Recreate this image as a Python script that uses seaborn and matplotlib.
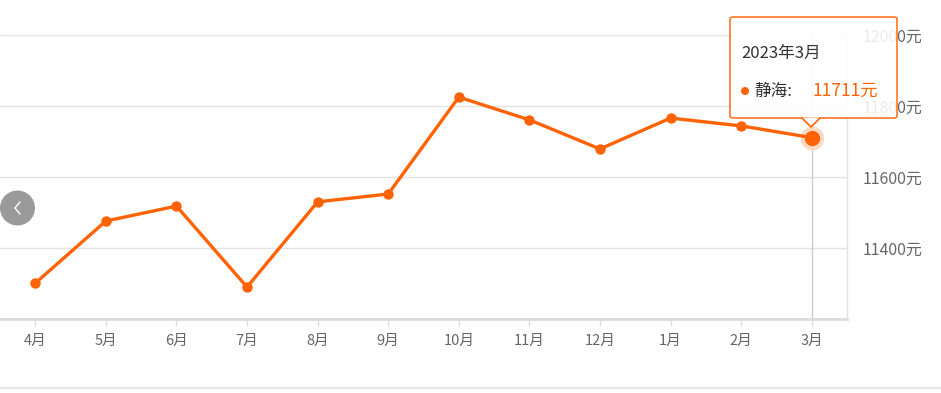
import matplotlib
matplotlib.use("Agg")
import matplotlib.pyplot as plt
import seaborn as sns
import pandas as pd
from matplotlib.patches import FancyBboxPatch, Polygon, Ellipse
from matplotlib.lines import Line2D

months = ["4月", "5月", "6月", "7月", "8月", "9月", "10月", "11月", "12月", "1月", "2月", "3月"]
prices = [11301, 11476, 11518, 11290, 11530, 11552, 11825, 11761, 11679, 11766, 11744, 11711]
y_ticks = [11400, 11600, 11800, 12000]
tooltip_title = "2023年3月"
series_name = "静海"

sns.set_theme(style="white")
plt.rcParams['font.family'] = ['Noto Sans CJK SC', 'DejaVu Sans']

W, H = 941, 393
fig = plt.figure(figsize=(W / 100, H / 100), dpi=100)

def fx(px):
    return px / W

def fy(py):
    return (H - py) / H

ax = fig.add_axes([fx(0), fy(319), fx(847) - fx(0), fy(35) - fy(319)])

df = pd.DataFrame({"month": months, "price": prices})
orange = "#ff6305"
sns.lineplot(data=df, x="month", y="price", ax=ax, color=orange, linewidth=2.4,
             marker="o", markersize=7.5, markeredgewidth=0, sort=False, zorder=5)

last_x = len(months) - 1
ax.plot([last_x], [prices[-1]], marker="o", markersize=17, color="#ffd9c2",
        markeredgewidth=0, zorder=4)
ax.plot([last_x], [prices[-1]], marker="o", markersize=11, color=orange,
        markeredgewidth=0, zorder=6)

ax.set_xlim(-0.5, len(months) - 0.5)
ax.set_ylim(11200, 12000)
ax.set_yticks(y_ticks)
ax.set_yticklabels([f"{v}元" for v in y_ticks])
ax.yaxis.tick_right()
ax.tick_params(axis="y", length=0, pad=11, labelsize=11.5, labelcolor="#666666")
ax.tick_params(axis="x", length=5, width=1, color="#dddddd", pad=6, labelsize=10.5,
               labelcolor="#666666", direction="out", bottom=True)
ax.set_xlabel("")
ax.set_ylabel("")

ax.grid(axis="y", color="#e3e3e3", linewidth=1)
ax.grid(axis="x", visible=False)
for s in ["top", "left"]:
    ax.spines[s].set_visible(False)
ax.spines["right"].set_color("#e3e3e3")
ax.spines["right"].set_linewidth(1)
ax.spines["bottom"].set_color("#dcdcdc")
ax.spines["bottom"].set_linewidth(2)

# crosshair
ax.axvline(last_x, color="#cccccc", linewidth=1, zorder=3)

# tooltip
box = FancyBboxPatch((fx(730), fy(118)), fx(897) - fx(730), fy(17) - fy(118),
                     boxstyle="round,pad=0,rounding_size=0.004",
                     transform=fig.transFigure, facecolor="white", alpha=0.88,
                     edgecolor=orange, linewidth=1.2, zorder=10)
fig.patches.append(box)
tri = Polygon([(fx(802), fy(117.5)), (fx(820), fy(117.5)), (fx(811), fy(127))],
              closed=True, transform=fig.transFigure, facecolor="white",
              edgecolor="none", zorder=11)
fig.patches.append(tri)
fig.lines.append(Line2D([fx(802), fx(811), fx(820)], [fy(118), fy(127), fy(118)],
                        transform=fig.transFigure, color=orange, linewidth=1.2, zorder=12))
fig.text(fx(741), fy(53), tooltip_title, fontsize=12, color="#333333", va="center", ha="left", zorder=13)
fig.patches.append(Ellipse((fx(745), fy(91)), 8 / W, 8 / H, transform=fig.transFigure,
                           facecolor=orange, edgecolor="none", zorder=13))
fig.text(fx(754), fy(91), f"{series_name}:", fontsize=12, color="#333333", va="center", ha="left", zorder=13)
fig.text(fx(813), fy(91), f"{prices[-1]}元", fontsize=12.5, color=orange, va="center", ha="left", zorder=13)

# left nav button
fig.patches.append(Ellipse((fx(17.5), fy(208)), 35 / W, 35 / H, transform=fig.transFigure,
                           facecolor="#9a9a9a", edgecolor="none", zorder=9))
fig.lines.append(Line2D([fx(20), fx(15), fx(20)], [fy(202), fy(208), fy(214)],
                        transform=fig.transFigure, color="white", linewidth=1, zorder=10))

# bottom border
fig.lines.append(Line2D([0, 1], [fy(388), fy(388)], transform=fig.transFigure,
                        color="#e8e8e8", linewidth=1.5))

fig.savefig("out.png", dpi=100)
